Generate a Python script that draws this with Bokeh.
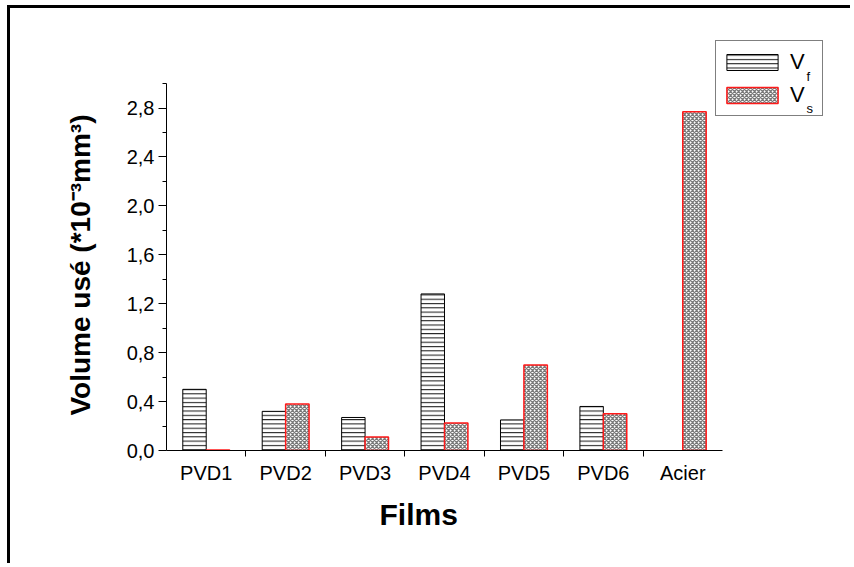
from bokeh.plotting import figure
from bokeh.models import (ColumnDataSource, Range1d, FixedTicker, CustomJSTickFormatter,
                          Legend, LegendItem, Label, Title)
from bokeh.transform import dodge
from bokeh.embed import file_html
from bokeh.resources import INLINE

# ---- data ----
films = ["PVD1", "PVD2", "PVD3", "PVD4", "PVD5", "PVD6", "Acier"]
v_f = [0.50, 0.32, 0.27, 1.28, 0.25, 0.36, 0.0]
v_s = [0.005, 0.38, 0.11, 0.225, 0.70, 0.30, 2.77]
y_ticks = [0.0, 0.4, 0.8, 1.2, 1.6, 2.0, 2.4, 2.8]
y_minor = [0.2, 0.6, 1.0, 1.4, 1.8, 2.2, 2.6, 3.0]
y_axis_max = 3.0

pos = [i + 0.5 for i in range(len(films))]
src = ColumnDataSource(dict(x=pos, film=films, vf=v_f, vs=v_s))

# frame is extended beyond the axes (axes limited with bounds) so that the legend fits inside
p = figure(width=843, height=558, output_backend="svg", toolbar_location=None,
           x_range=Range1d(0, 8.36), y_range=Range1d(0, 3.352),
           min_border_left=156, min_border_right=23, min_border_top=32,
           min_border_bottom=116)
p.styles = {"border-top": "3px solid black", "border-left": "3px solid black",
            "margin-left": "7px", "margin-top": "5px"}
p.outline_line_color = None
p.xgrid.visible = False
p.ygrid.visible = False
p.background_fill_color = "white"
p.border_fill_color = "white"

bw = 0.295
r_f = p.vbar(x=dodge("x", -bw / 2, range=p.x_range), top="vf", width=bw, source=src,
             fill_color="white", line_color="black", line_width=1,
             hatch_pattern="horizontal_line", hatch_color="#111111",
             hatch_scale=4.3, hatch_weight=1)
r_s = p.vbar(x=dodge("x", bw / 2, range=p.x_range), top="vs", width=bw, source=src,
             fill_color="white", line_color="#ff1a1a", line_width=1.5,
             hatch_pattern="diagonal_cross", hatch_color="#7a7a7a",
             hatch_scale=4, hatch_weight=1.3)

font = "Liberation Sans"

# x axis
xa = p.xaxis[0]
xa.bounds = (0, len(films))
xa.ticker = FixedTicker(ticks=pos, minor_ticks=[float(i) for i in range(1, len(films))])
xa.major_label_overrides = {pos[i]: films[i] for i in range(len(films))}
xa.major_tick_out = 0
xa.major_tick_in = 0
xa.minor_tick_out = 6
xa.minor_tick_in = 0
xa.major_label_standoff = 5
xa.major_label_text_font = font
xa.major_label_text_font_size = "20px"
xa.major_label_text_color = "black"
xa.axis_line_color = "black"
xa.minor_tick_line_color = "black"

# y axis
ya = p.yaxis[0]
ya.bounds = (0, y_axis_max)
ya.ticker = FixedTicker(ticks=y_ticks, minor_ticks=y_minor)
ya.formatter = CustomJSTickFormatter(code="return tick.toFixed(1).replace('.', ',');")
ya.major_tick_out = 8
ya.major_tick_in = 0
ya.minor_tick_out = 4
ya.minor_tick_in = 0
ya.major_label_standoff = 4
ya.major_label_text_font = font
ya.major_label_text_font_size = "20px"
ya.major_label_text_color = "black"
ya.axis_line_color = "black"
ya.major_tick_line_color = "black"
ya.minor_tick_line_color = "black"

# axis titles (placed as side titles so they can be centred on the axes, not the frame)
x_title = Title(text="Films", align="left", offset=213, standoff=19,
                text_font=font, text_font_size="30px", text_font_style="bold",
                text_color="black")
p.add_layout(x_title, "below")
y_title = Title(text="Volume usé (*10⁻³mm³)", align="left", offset=35, standoff=55,
                text_font=font, text_font_size="28px", text_font_style="bold",
                text_color="black")
p.add_layout(y_title, "left")

# legend
legend = Legend(items=[LegendItem(label="V", renderers=[r_f]),
                       LegendItem(label="V", renderers=[r_s])],
                location=(549, 334), orientation="vertical",
                glyph_width=64, glyph_height=20, label_standoff=6,
                label_width=28, label_height=33,
                padding=4, spacing=0, margin=0,
                border_line_color="black", border_line_width=1,
                background_fill_alpha=0,
                label_text_font=font, label_text_font_size="22px",
                label_text_color="black")
p.add_layout(legend)

for txt, yy in (("f", 374.5), ("s", 342.0)):
    p.add_layout(Label(x=640, y=yy, x_units="screen", y_units="screen", text=txt,
                       text_font=font, text_font_size="13px", text_color="black",
                       text_baseline="alphabetic"))

open("out.html", "w").write(file_html(p, INLINE))
